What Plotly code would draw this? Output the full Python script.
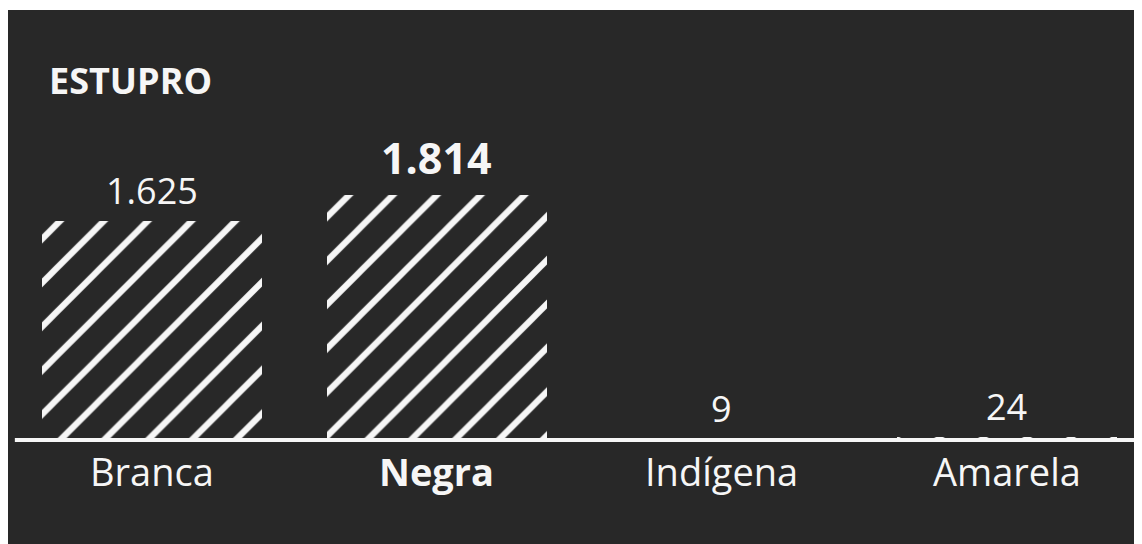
import plotly.graph_objects as go

categories = ["Branca", "Negra", "Indígena", "Amarela"]
values = [1625, 1814, 9, 24]
value_labels = ["1.625", "1.814", "9", "24"]
highlight = [False, True, False, False]
title_text = "ESTUPRO"

BG = "#282828"
FG = "#f6f6f6"
FONT = "Open Sans"

W, H = 1142, 544
MT = 2
PLOT_H = H - MT

x_idx = list(range(len(categories)))

fig = go.Figure()
fig.add_trace(go.Bar(
    x=x_idx, y=values, width=0.772,
    marker=dict(
        color="rgba(0,0,0,0)",
        line=dict(width=0),
        pattern=dict(shape="/", fgcolor=FG, fgopacity=1, bgcolor="rgba(0,0,0,0)",
                     size=31, solidity=0.2, fillmode="overlay"),
    ),
    hoverinfo="skip",
))

annotations = []
for i, (cat, v, lab, hl) in enumerate(zip(categories, values, value_labels, highlight)):
    annotations.append(dict(
        x=i, y=v, xref="x", yref="y", text=f"<b>{lab}</b>" if hl else lab,
        showarrow=False, yanchor="bottom", xanchor="center", yshift=6 if hl else 4,
        font=dict(family=FONT, size=43 if hl else 36, color=FG),
    ))
    annotations.append(dict(
        x=i, y=0, xref="x", yref="y", text=f"<b>{cat}</b>" if hl else cat,
        showarrow=False, yanchor="top", xanchor="center", yshift=-3,
        font=dict(family=FONT, size=38, color=FG),
    ))
annotations.append(dict(
    x=(47 - 8) / W, y=1 - (80 - 10) / PLOT_H, xref="paper", yref="paper",
    text=f"<b>{title_text}</b>",
    showarrow=False, xanchor="left", yanchor="middle",
    font=dict(family=FONT, size=36, color=FG),
))

fig.add_shape(type="line", xref="paper", yref="y", x0=0.006, x1=1, y0=0, y1=0,
              line=dict(color=FG, width=4), layer="above")

fig.update_layout(
    width=W, height=H,
    margin=dict(l=0, r=0, t=MT, b=0),
    paper_bgcolor="white", plot_bgcolor=BG,
    showlegend=False,
    xaxis=dict(range=[-0.505, 3.502], visible=False, fixedrange=True),
    yaxis=dict(range=[-829, 3184], visible=False, fixedrange=True),
    annotations=annotations,
    bargap=0,
)

fig.write_html("out.html", config={"displayModeBar": False})
